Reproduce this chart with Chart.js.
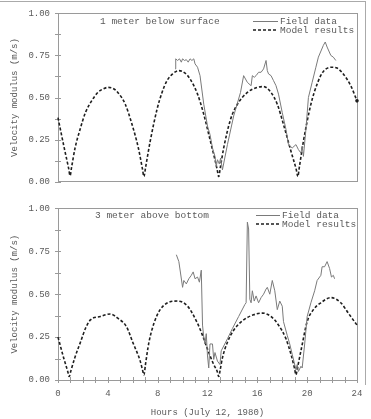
<!DOCTYPE html>
<html><head><meta charset="utf-8">
<script src="https://cdn.jsdelivr.net/npm/chart.js@4/dist/chart.umd.min.js"></script>
<style>
html,body{margin:0;padding:0;background:#fff;width:371px;height:419px;overflow:hidden;}
#c1{position:absolute;left:0;top:0;}
#c2{position:absolute;left:0;top:195px;}
.ln{position:absolute;background:#aaa;}
</style></head><body>
<div class="ln" style="left:0;top:1px;width:366px;height:1px;"></div>
<div class="ln" style="left:365px;top:1px;width:1px;height:384px;"></div>
<canvas id="c1" width="371" height="195"></canvas>
<canvas id="c2" width="371" height="224"></canvas>
<script>
// ---- Data ----
const topModelHours = [0,0.5,0.85,0.97,1.09,1.37,1.77,2.2,2.7,3.2,3.6,4.0,4.4,4.8,5.4,5.9,6.45,6.78,6.9,7.02,7.4,7.95,8.35,8.75,9.2,9.7,10.2,10.6,11.2,11.7,12.2,12.6,12.78,12.9,13.02,13.3,13.85,14.4,15.2,16.0,16.5,17.1,17.6,18.1,18.7,19.13,19.25,19.37,19.7,20.3,20.85,21.3,22.0,22.4,22.9,23.5,24.0];
const topModelValues = [0.38,0.20,0.08,0.035,0.085,0.20,0.31,0.41,0.48,0.53,0.55,0.56,0.555,0.53,0.46,0.35,0.20,0.075,0.03,0.08,0.24,0.43,0.53,0.60,0.64,0.66,0.645,0.61,0.52,0.40,0.25,0.13,0.07,0.03,0.08,0.20,0.37,0.46,0.53,0.56,0.565,0.53,0.46,0.34,0.18,0.07,0.03,0.085,0.24,0.46,0.59,0.655,0.68,0.675,0.64,0.57,0.48];
const topFieldHours = [9.4,9.45,9.6,9.75,9.9,10.0,10.15,10.3,10.45,10.6,10.75,10.9,11.0,11.2,11.4,11.7,12.0,12.2,12.4,12.6,12.7,12.8,12.95,13.05,13.2,13.6,14.1,14.65,14.9,15.2,15.5,15.6,15.75,15.9,16.1,16.3,16.5,16.7,16.8,16.9,17.1,17.3,17.5,17.7,18.0,18.3,18.5,18.8,19.1,19.3,19.5,19.6,19.7,19.9,20.1,20.4,20.7,20.9,21.3,21.45,21.6,21.9,22.1,22.3];
const topFieldValues = [0.67,0.73,0.72,0.73,0.71,0.73,0.72,0.725,0.71,0.73,0.72,0.73,0.70,0.68,0.63,0.46,0.33,0.28,0.20,0.15,0.09,0.13,0.105,0.14,0.07,0.22,0.39,0.53,0.63,0.59,0.57,0.63,0.62,0.63,0.65,0.65,0.67,0.72,0.66,0.64,0.63,0.60,0.57,0.52,0.41,0.31,0.22,0.20,0.22,0.19,0.17,0.21,0.15,0.31,0.50,0.59,0.68,0.74,0.81,0.83,0.80,0.75,0.74,0.72];
const botModelHours = [0,0.45,0.78,0.9,1.02,1.35,1.8,2.2,2.6,3.4,4.2,4.8,5.5,6.0,6.6,6.78,6.9,7.02,7.3,7.7,8.2,8.8,9.6,10.4,11.2,11.6,12.0,12.5,12.78,12.9,13.02,13.2,13.6,14.1,14.9,15.7,16.4,17.1,17.7,18.3,18.7,18.98,19.1,19.22,19.5,20.0,20.5,21.1,21.9,22.7,23.3,24.0];
const botModelValues = [0.25,0.13,0.05,0.02,0.05,0.13,0.22,0.30,0.35,0.37,0.385,0.36,0.31,0.22,0.11,0.06,0.03,0.09,0.22,0.33,0.41,0.45,0.46,0.43,0.33,0.26,0.18,0.09,0.05,0.02,0.06,0.13,0.22,0.29,0.35,0.38,0.39,0.37,0.32,0.24,0.15,0.07,0.03,0.07,0.17,0.34,0.41,0.45,0.48,0.45,0.39,0.32];
const botFieldHours = [9.5,9.7,10.0,10.1,10.3,10.5,10.7,10.85,11.0,11.2,11.35,11.5,11.6,11.7,11.8,11.9,12.0,12.1,12.2,12.4,12.5,12.6,12.8,13.0,13.1,13.6,14.0,14.5,15.0,15.1,15.2,15.3,15.4,15.5,15.6,15.75,15.9,16.1,16.3,16.5,16.7,16.8,17.0,17.2,17.4,17.6,17.8,18.0,18.1,18.4,18.6,18.8,19.1,19.2,19.3,19.5,19.6,19.8,20.0,20.3,20.6,20.8,21.1,21.2,21.4,21.6,21.8,21.95,22.1,22.2];
const botFieldValues = [0.73,0.69,0.54,0.58,0.56,0.59,0.61,0.63,0.59,0.60,0.57,0.64,0.32,0.25,0.21,0.27,0.14,0.07,0.21,0.21,0.12,0.16,0.11,0.09,0.17,0.24,0.30,0.37,0.44,0.45,0.92,0.88,0.47,0.45,0.52,0.46,0.49,0.45,0.48,0.50,0.53,0.54,0.50,0.58,0.52,0.41,0.46,0.43,0.34,0.26,0.21,0.15,0.06,0.09,0.05,0.08,0.07,0.21,0.37,0.45,0.52,0.58,0.61,0.66,0.66,0.69,0.65,0.60,0.61,0.59];
const yTickValues = [0, 0.25, 0.5, 0.75, 1];
const xTickLabels = [0, 4, 8, 12, 16, 20, 24];
const panelTitles = ['1 meter below surface', '3 meter above bottom'];
const seriesNames = ['Field data', 'Model results'];
const yTitle = 'Velocity modulus (m/s)';
const xTitle = 'Hours (July 12, 1980)';

const FONT = "'Liberation Mono', 'Courier New', monospace";
const TXT = '#5a5a5a';
const FRAME = '#9a9a9a';
const FIELD_COLOR = '#7a7a7a';
const MODEL_COLOR = '#1e1e1e';

function pts(h, v){ return h.map((x,i)=>({x:x, y:v[i]})); }

function framePlugin(opts){
  return {
    id:'frame'+opts.idx,
    beforeDatasetsDraw(chart){
      const {ctx, chartArea:a} = chart;
      ctx.save();
      ctx.strokeStyle = FRAME; ctx.lineWidth = 1;
      ctx.strokeRect(Math.round(a.left)+0.5, Math.round(a.top)+0.5, Math.round(a.right-a.left), Math.round(a.bottom-a.top));
      const ys = chart.scales.y;
      ys.ticks.forEach(t=>{
        const p = Math.round(ys.getPixelForValue(t.value))+0.5;
        ctx.beginPath(); ctx.moveTo(a.left-3, p); ctx.lineTo(a.left+3, p); ctx.stroke();
      });
      if (opts.xticks){
        const xs = chart.scales.x;
        xs.ticks.forEach(t=>{
          const p = Math.round(xs.getPixelForValue(t.value))+0.5;
          ctx.beginPath(); ctx.moveTo(p, a.bottom-3); ctx.lineTo(p, a.bottom+3); ctx.stroke();
        });
      }
      ctx.restore();
    },
    afterDraw(chart){
      const {ctx} = chart;
      ctx.save();
      ctx.font = '9.5px ' + FONT;
      ctx.fillStyle = TXT;
      ctx.textBaseline = 'middle';
      ctx.textAlign = 'left';
      ctx.fillText(opts.title, opts.titleX, opts.legY);
      ctx.strokeStyle = FIELD_COLOR; ctx.lineWidth = 1;
      ctx.beginPath(); ctx.moveTo(opts.legX0, opts.legY+0.5); ctx.lineTo(opts.legX1, opts.legY+0.5); ctx.stroke();
      ctx.strokeStyle = MODEL_COLOR; ctx.lineWidth = 1.6; ctx.setLineDash([3,2]);
      ctx.beginPath(); ctx.moveTo(opts.legX0, opts.legY+9); ctx.lineTo(opts.legX1, opts.legY+9); ctx.stroke();
      ctx.setLineDash([]);
      ctx.fillText(seriesNames[0], opts.legX1+2, opts.legY);
      ctx.fillText(seriesNames[1], opts.legX1+2, opts.legY+9);
      ctx.restore();
    }
  };
}

function yScale(){
  return {
    type:'linear', min:0, max:1,
    grid:{display:false, drawTicks:false}, border:{display:false},
    ticks:{stepSize:0.125, autoSkip:false, padding:8, color:TXT, font:{family:FONT, size:9},
      callback:(v)=> yTickValues.some(t=>Math.abs(t-v)<1e-6) ? v.toFixed(2) : ''},
    title:{display:true, text:yTitle, color:TXT, font:{family:FONT, size:9}, padding:0},
    afterFit:(s)=>{ s.width = 49; }
  };
}

function datasets(fh, fv, mh, mv, endDot){
  const md = pts(mh, mv);
  return [
    {data: pts(fh, fv), borderColor:FIELD_COLOR, borderWidth:1, pointRadius:0, tension:0, fill:false},
    {data: md, borderColor:MODEL_COLOR, borderWidth:1.6, borderDash:[3,2], fill:false,
     cubicInterpolationMode:'monotone', clip:6,
     pointRadius: md.map((p,i)=> (endDot && i===md.length-1) ? 1.8 : 0),
     pointBackgroundColor:MODEL_COLOR, pointBorderWidth:0}
  ];
}

Chart.defaults.animation = false;

new Chart(document.getElementById('c1'), {
  type:'line',
  data:{datasets: datasets(topFieldHours, topFieldValues, topModelHours, topModelValues, true)},
  options:{
    responsive:false, animation:false, devicePixelRatio:1,
    layout:{padding:{left:9, right:14, top:8, bottom:7}},
    plugins:{legend:{display:false}, tooltip:{enabled:false}},
    scales:{
      x:{type:'linear', min:0, max:24, display:false},
      y: yScale()
    }
  },
  plugins:[framePlugin({idx:1, xticks:false, title:panelTitles[0], titleX:100, legY:21, legX0:253, legX1:278})]
});

new Chart(document.getElementById('c2'), {
  type:'line',
  data:{datasets: datasets(botFieldHours, botFieldValues, botModelHours, botModelValues, false)},
  options:{
    responsive:false, animation:false, devicePixelRatio:1,
    layout:{padding:{left:9, right:14, top:6, bottom:0}},
    plugins:{legend:{display:false}, tooltip:{enabled:false}},
    scales:{
      x:{type:'linear', min:0, max:24,
        grid:{display:false, drawTicks:false}, border:{display:false},
        ticks:{stepSize:1, autoSkip:false, maxRotation:0, padding:8, color:TXT, font:{family:FONT, size:9},
          callback:(v)=> xTickLabels.includes(v) ? String(v) : ''},
        title:{display:true, text:xTitle, color:TXT, font:{family:FONT, size:9}, padding:{top:0,bottom:1}},
        afterFit:(s)=>{ s.height = 39; }
      },
      y: yScale()
    }
  },
  plugins:[framePlugin({idx:2, xticks:true, title:panelTitles[1], titleX:95, legY:20, legX0:256, legX1:280})]
});
</script>
</body></html>
